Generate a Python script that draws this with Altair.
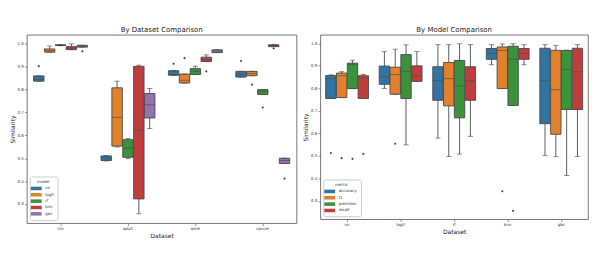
import altair as alt
import pandas as pd

# ---------------- data ----------------
datasets = ["iris", "adult", "wine", "cancer"]
models = ["nn", "logit", "rf", "knn", "gbc"]
# [whisker_low, q1, median, q3, whisker_high] per dataset, per model
ds_stats = {
    "iris":   [[0.837, 0.837, 0.845, 0.860, 0.860],
               [0.964, 0.964, 0.971, 0.978, 0.991],
               [0.992, 0.993, 0.995, 0.996, 0.998],
               [0.975, 0.975, 0.981, 0.988, 1.000],
               [0.986, 0.986, 0.990, 0.994, 0.994]],
    "adult":  [[0.488, 0.490, 0.501, 0.510, 0.512],
               [0.549, 0.553, 0.679, 0.808, 0.837],
               [0.498, 0.504, 0.544, 0.581, 0.586],
               [0.257, 0.322, 0.623, 0.902, 0.907],
               [0.630, 0.676, 0.734, 0.783, 0.805]],
    "wine":   [[0.863, 0.863, 0.866, 0.883, 0.883],
               [0.829, 0.829, 0.841, 0.868, 0.868],
               [0.866, 0.866, 0.880, 0.892, 0.902],
               [0.923, 0.923, 0.932, 0.942, 0.952],
               [0.962, 0.962, 0.969, 0.974, 0.974]],
    "cancer": [[0.855, 0.855, 0.868, 0.880, 0.880],
               [0.861, 0.861, 0.871, 0.880, 0.880],
               [0.779, 0.779, 0.792, 0.800, 0.800],
               [0.988, 0.988, 0.993, 0.996, 0.997],
               [0.477, 0.477, 0.490, 0.500, 0.500]],
}
ds_outliers = [("iris", "nn", 0.903), ("iris", "gbc", 0.968),
               ("wine", "nn", 0.913), ("wine", "logit", 0.938), ("wine", "knn", 0.880),
               ("cancer", "nn", 0.925), ("cancer", "logit", 0.822), ("cancer", "rf", 0.722),
               ("cancer", "knn", 0.980), ("cancer", "gbc", 0.411)]

model_cats = ["nn", "logit", "rf", "knn", "gbc"]
metrics = ["accuracy", "f1", "precision", "recall"]
m_stats = {
    "nn":    [[0.755, 0.755, 0.843, 0.857, 0.860],
              [0.759, 0.759, 0.856, 0.868, 0.874],
              [0.799, 0.799, 0.905, 0.912, 0.925],
              [0.755, 0.755, 0.845, 0.856, 0.862]],
    "logit": [[0.800, 0.818, 0.852, 0.899, 0.963],
              [0.774, 0.774, 0.861, 0.894, 0.974],
              [0.549, 0.755, 0.876, 0.950, 0.993],
              [0.831, 0.831, 0.856, 0.900, 0.963]],
    "rf":    [[0.579, 0.747, 0.834, 0.896, 0.994],
              [0.497, 0.722, 0.843, 0.915, 0.994],
              [0.508, 0.669, 0.810, 0.924, 0.998],
              [0.587, 0.747, 0.834, 0.896, 0.994]],
    "knn":   [[0.905, 0.929, 0.955, 0.977, 0.994],
              [0.799, 0.799, 0.968, 0.984, 0.997],
              [0.724, 0.724, 0.929, 0.987, 0.998],
              [0.905, 0.929, 0.955, 0.977, 0.994]],
    "gbc":   [[0.501, 0.643, 0.834, 0.978, 0.994],
              [0.497, 0.596, 0.794, 0.969, 0.991],
              [0.413, 0.706, 0.884, 0.968, 0.970],
              [0.497, 0.706, 0.874, 0.978, 0.994]],
}
m_outliers = [("nn", "accuracy", 0.513), ("nn", "f1", 0.490), ("nn", "precision", 0.487),
              ("nn", "recall", 0.509), ("logit", "f1", 0.554),
              ("knn", "f1", 0.343), ("knn", "precision", 0.256)]

palette5 = ["#3274a1", "#e1812c", "#3a923a", "#c03d3e", "#9372b2"]
y_ticks = [0.3, 0.4, 0.5, 0.6, 0.7, 0.8, 0.9, 1.0]

LINE = "#4a4a4a"
FONT = "DejaVu Sans"


def panel(cats, hues, stats, outliers, hue_title, title, w, h, ydom, boxw):
    rows = []
    for c in cats:
        for i, hname in enumerate(hues):
            lo, q1, med, q3, hi = stats[c][i]
            rows.append(dict(cat=c, hue=hname, lo=lo, q1=q1, med=med, q3=q3, hi=hi))
    df = pd.DataFrame(rows)
    odf = pd.DataFrame(outliers, columns=["cat", "hue", "v"])

    xenc = alt.X("cat:N", sort=cats, title="Dataset",
                 scale=alt.Scale(paddingInner=0.2, paddingOuter=0.1),
                 axis=alt.Axis(labelAngle=0))
    xo = alt.XOffset("hue:N", sort=hues, scale=alt.Scale(paddingInner=0.04))
    yscale = alt.Scale(domain=ydom, nice=False, zero=False)

    def Y(field):
        return alt.Y(field, scale=yscale, title="Similarity",
                     axis=alt.Axis(values=y_ticks, format=".1f", labelOverlap=False))

    base = alt.Chart(df)
    whisk = base.mark_rule(color=LINE, strokeWidth=0.9).encode(
        x=xenc, xOffset=xo, y=Y("lo:Q"), y2="hi:Q")
    box = base.mark_bar(stroke=LINE, strokeWidth=0.9).encode(
        x=xenc, xOffset=xo, y=Y("q1:Q"), y2="q3:Q",
        color=alt.Color("hue:N", sort=hues, title=hue_title,
                        scale=alt.Scale(domain=hues, range=palette5[:len(hues)]),
                        legend=alt.Legend(orient="bottom-left", offset=3)))
    medt = base.mark_tick(color=LINE, size=boxw, thickness=0.9).encode(
        x=xenc, xOffset=xo, y=Y("med:Q"))
    capl = base.mark_tick(color=LINE, size=boxw * 0.5, thickness=0.9).encode(
        x=xenc, xOffset=xo, y=Y("lo:Q"))
    caph = base.mark_tick(color=LINE, size=boxw * 0.5, thickness=0.9).encode(
        x=xenc, xOffset=xo, y=Y("hi:Q"))
    pts = alt.Chart(odf).mark_point(shape="diamond", filled=True, color=LINE,
                                    size=7, opacity=1).encode(
        x=xenc, xOffset=xo, y=Y("v:Q"))

    return alt.layer(whisk, box, medt, capl, caph, pts).properties(
        width=w, height=h,
        title=alt.TitleParams(title, fontSize=7, font=FONT, fontWeight="normal",
                              color="#222", offset=2))


left = panel(datasets, models, ds_stats, ds_outliers, "model",
             "By Dataset Comparison", 272, 190, [0.216, 1.04], 10.4)
right = panel(model_cats, metrics, m_stats, m_outliers, "metric",
              "By Model Comparison", 270, 186, [0.219, 1.038], 10.4)

chart = alt.hconcat(left, right, spacing=4).resolve_scale(
    color="independent", x="independent", y="independent", xOffset="independent"
).properties(
    padding={"left": 0, "top": 16, "right": 0, "bottom": 0}
).configure(font=FONT).configure_view(
    stroke="#555", strokeWidth=0.8
).configure_axis(
    domain=False, grid=False, labelFontSize=4, titleFontSize=6,
    labelColor="#333", titleColor="#222", titleFontWeight="normal",
    tickColor="#555", tickSize=2.5, tickWidth=0.6, labelPadding=1, titlePadding=2,
    labelFont=FONT, titleFont=FONT, labelOverlap=False
).configure_legend(
    titleFontSize=4, labelFontSize=4, titleFontWeight="normal", titleAnchor="middle",
    titleColor="#333", labelColor="#333",
    symbolType="M-2,-0.65h4v1.3h-4z", symbolSize=30, symbolStrokeWidth=0,
    rowPadding=1.4, padding=3.5, fillColor="white", strokeColor="#ccc", cornerRadius=2,
    titlePadding=1.5, labelOffset=6, labelFont=FONT, titleFont=FONT
)

chart.save("out.html", embed_options={"renderer": "svg", "actions": False})
